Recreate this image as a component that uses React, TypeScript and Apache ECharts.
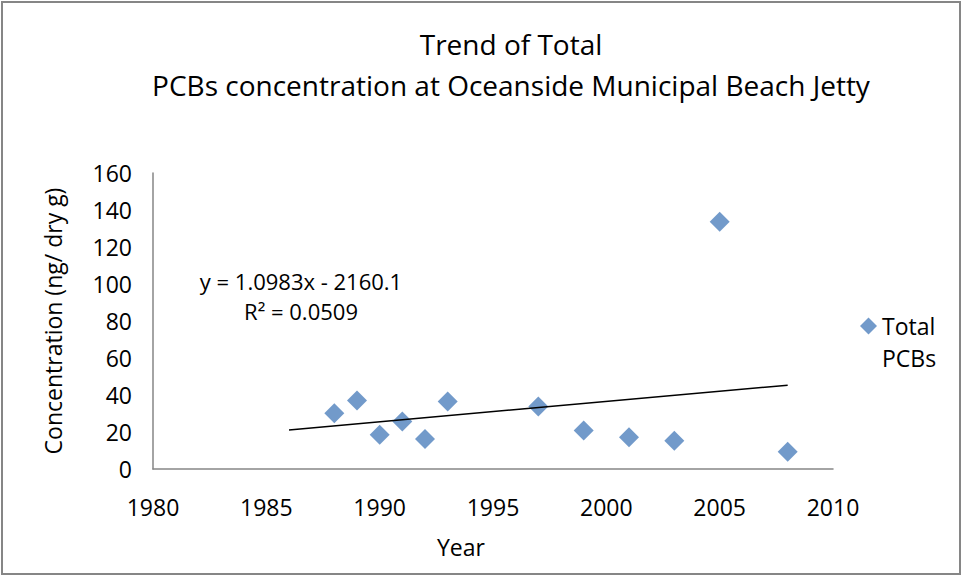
import React, { useEffect, useRef } from "react";
import * as echarts from "echarts";

const years = [1988, 1989, 1990, 1991, 1992, 1993, 1997, 1999, 2001, 2003, 2005, 2008];
const totalPCBs = [30.2, 37.0, 18.5, 25.7, 16.2, 36.5, 33.8, 20.8, 17.1, 15.3, 133.7, 9.3];
const trendSlope = 1.0983;
const trendIntercept = -2160.1;
const trendRange = [1986, 2008];
const equationLines = ["y = 1.0983x - 2160.1", "R² = 0.0509"];
const titleLines = ["Trend of Total", "PCBs concentration at Oceanside Municipal Beach Jetty"];

const FONT = "'Open Sans', 'Noto Sans', sans-serif";

export default function App() {
  const ref = useRef<HTMLDivElement>(null);
  useEffect(() => {
    document.body.style.margin = "0";
    const chart = echarts.init(ref.current!, null, { renderer: "svg" });
    const trendData = trendRange.map((x) => [x, trendSlope * x + trendIntercept]);
    chart.setOption({
      animation: false,
      backgroundColor: "#ffffff",
      textStyle: { fontFamily: FONT },
      title: {
        text: titleLines.join("\n"),
        left: 506,
        top: 18,
        textAlign: "center",
        textStyle: { fontFamily: FONT, fontSize: 28, fontWeight: "normal", color: "#000", lineHeight: 41 },
      },
      legend: {
        left: 855,
        top: 273,
        orient: "vertical",
        itemWidth: 17,
        itemHeight: 17,
        data: [{ name: "Total PCBs", icon: "diamond" }],
        formatter: () => " \nTotal\nPCBs",
        textStyle: { fontFamily: FONT, fontSize: 23, color: "#000", lineHeight: 32 },
      },
      grid: { left: 153, right: 130, top: 173, bottom: 108, containLabel: false },
      xAxis: {
        type: "value",
        min: 1980,
        max: 2010,
        interval: 5,
        name: "Year",
        nameLocation: "middle",
        nameGap: 66,
        nameTextStyle: { fontFamily: FONT, fontSize: 23, color: "#000", padding: [0, 64, 0, 0] },
        axisLine: { show: true, lineStyle: { color: "#868686", width: 1.5 } },
        axisTick: { show: false },
        splitLine: { show: false },
        axisLabel: { fontFamily: FONT, fontSize: 23, color: "#000", margin: 26, formatter: (v: number) => String(v) },
      },
      yAxis: {
        type: "value",
        min: 0,
        max: 160,
        interval: 20,
        name: "Concentration (ng/ dry g)",
        nameLocation: "middle",
        nameGap: 89,
        nameTextStyle: { fontFamily: FONT, fontSize: 23, color: "#000" },
        axisLine: { show: true, lineStyle: { color: "#868686", width: 1.5 } },
        axisTick: { show: false },
        splitLine: { show: false },
        axisLabel: { fontFamily: FONT, fontSize: 23, color: "#000", margin: 21 },
      },
      series: [
        {
          name: "Total PCBs",
          type: "scatter",
          symbol: "diamond",
          symbolSize: 20,
          itemStyle: { color: "#4F81BD" },
          data: years.map((y, i) => [y, totalPCBs[i]]),
          z: 3,
        },
        {
          name: "Linear (Total PCBs)",
          type: "line",
          data: trendData,
          symbol: "none",
          lineStyle: { color: "#000", width: 1.5 },
          z: 4,
          silent: true,
        },
      ],
      graphic: [
        {
          type: "rect",
          shape: { x: 2, y: 2, width: 958, height: 572 },
          style: { fill: "none", stroke: "#868686", lineWidth: 2 },
          silent: true,
        },
        {
          type: "text",
          x: 301,
          y: 280.5,
          style: { text: equationLines[0], fontFamily: FONT, fontSize: 22, fill: "#000", align: "center", verticalAlign: "middle" },
        },
        {
          type: "text",
          x: 301,
          y: 311,
          style: { text: equationLines[1], fontFamily: FONT, fontSize: 22, fill: "#000", align: "center", verticalAlign: "middle" },
        },
      ],
    });
    return () => chart.dispose();
  }, []);
  return <div ref={ref} style={{ width: 963, height: 577 }} />;
}
